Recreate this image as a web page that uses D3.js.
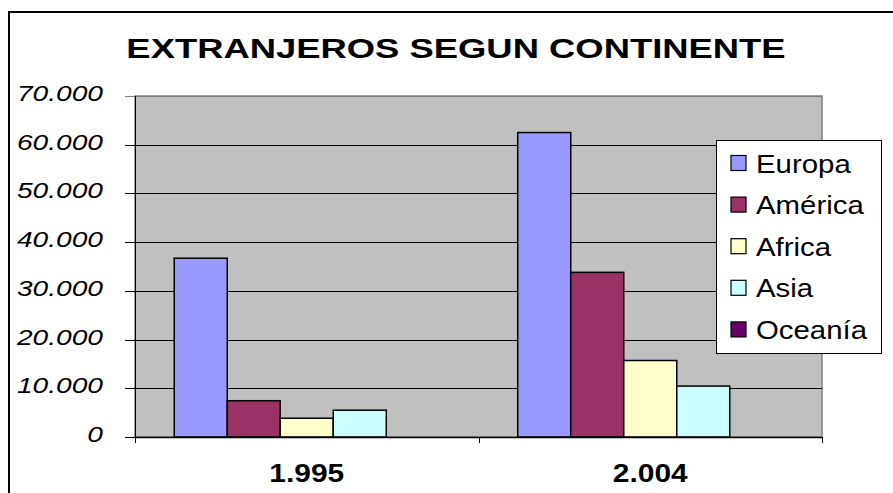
<!DOCTYPE html>
<html>
<head>
<meta charset="utf-8">
<script src="https://cdn.jsdelivr.net/npm/d3@7"></script>
<style>
  body { margin: 0; background: #fff; }
  text { font-family: "Liberation Sans", Arial, sans-serif; fill: #000; }
</style>
</head>
<body>
<div id="chart"></div>
<script>
var years = ["1.995", "2.004"];
var continents = ["Europa", "América", "Africa", "Asia", "Oceanía"];
var colors = ["#9999FF", "#993366", "#FFFFCC", "#CCFFFF", "#660066"];
// values per continent, [1995, 2004]
var europa  = [36700, 62500];
var america = [7450, 33800];
var africa  = [3850, 15700];
var asia    = [5500, 10450];
var oceania = [0, 0];
var yTicks = [0, 10000, 20000, 30000, 40000, 50000, 60000, 70000];

var w = 893, h = 493;
var plot = {left: 135, top: 96, right: 822, bottom: 437};

var series = [europa, america, africa, asia, oceania];
var data = [];
years.forEach(function(yr, i) {
  continents.forEach(function(c, j) {
    data.push({year: yr, cont: c, value: series[j][i], color: colors[j]});
  });
});

// spanish style thousands: 70.000
var fmt = function(d) { return d3.format(",")(d).replace(/,/g, "."); };

var svg = d3.select("#chart").append("svg")
  .attr("width", w)
  .attr("height", h);

// stretched text helper (the original is horizontally stretched)
function stretched(sel, x, y, sx) {
  return sel.attr("x", 0).attr("y", 0)
    .attr("transform", "translate(" + x + "," + y + ") scale(" + sx + ",1)");
}

// outer chart border
svg.append("rect")
  .attr("x", 9).attr("y", 12)
  .attr("width", w).attr("height", h)
  .attr("fill", "none")
  .attr("stroke", "#000")
  .attr("stroke-width", 2);

var x0 = d3.scaleBand().domain(years).range([plot.left, plot.right]).padding(0);
var x1 = d3.scaleBand().domain(continents).range([0, x0.bandwidth()])
  .paddingInner(0).paddingOuter(0.74);
var y = d3.scaleLinear().domain([0, 70000]).range([plot.bottom, plot.top]);

// plot area
svg.append("rect")
  .attr("x", plot.left).attr("y", plot.top)
  .attr("width", plot.right - plot.left)
  .attr("height", plot.bottom - plot.top)
  .attr("fill", "#C0C0C0")
  .attr("stroke", "#808080")
  .attr("stroke-width", 1.5);

// gridlines + ticks
svg.selectAll(".grid")
  .data(yTicks)
  .enter().append("line")
  .attr("class", "grid")
  .attr("x1", plot.left - 10).attr("x2", plot.right)
  .attr("y1", function(d) { return Math.round(y(d)) + 0.5; })
  .attr("y2", function(d) { return Math.round(y(d)) + 0.5; })
  .attr("stroke", function(d) { return d == 70000 ? "#808080" : "#000"; })
  .attr("stroke-width", 1);

svg.selectAll(".ylab")
  .data(yTicks)
  .enter().append("text")
  .attr("class", "ylab")
  .attr("text-anchor", "end")
  .style("font-size", "22px")
  .style("font-style", "italic")
  .each(function(d) {
    stretched(d3.select(this), 103, y(d) + 5, 1.28);
  })
  .text(fmt);

// bars
svg.selectAll(".bar")
  .data(data)
  .enter().append("rect")
  .attr("class", "bar")
  .attr("x", function(d) { return x0(d.year) + x1(d.cont); })
  .attr("y", function(d) { return y(d.value); })
  .attr("width", x1.bandwidth())
  .attr("height", function(d) { return plot.bottom - y(d.value); })
  .attr("fill", function(d) { return d.color; })
  .attr("stroke", "#000")
  .attr("stroke-width", 1.5);

// axes lines
svg.append("line")
  .attr("x1", plot.left + 0.5).attr("x2", plot.left + 0.5)
  .attr("y1", plot.top).attr("y2", plot.bottom + 6)
  .attr("stroke", "#000");
svg.append("line")
  .attr("x1", plot.left).attr("x2", plot.right)
  .attr("y1", plot.bottom + 0.5).attr("y2", plot.bottom + 0.5)
  .attr("stroke", "#000").attr("stroke-width", 1.5);

var seps = years.map(function(d) { return x0(d); }).concat([plot.right]);
svg.selectAll(".xtick")
  .data(seps)
  .enter().append("line")
  .attr("class", "xtick")
  .attr("x1", function(d) { return Math.round(d) + 0.5; })
  .attr("x2", function(d) { return Math.round(d) + 0.5; })
  .attr("y1", plot.bottom).attr("y2", plot.bottom + 6)
  .attr("stroke", "#000");

svg.selectAll(".xlab")
  .data(years)
  .enter().append("text")
  .attr("class", "xlab")
  .attr("text-anchor", "middle")
  .style("font-size", "26px")
  .style("font-weight", "bold")
  .each(function(d) {
    stretched(d3.select(this), x0(d) + x0.bandwidth() / 2, 482, 1.15);
  })
  .text(function(d) { return d; });

// title
stretched(svg.append("text"), 456, 58, 1.3)
  .attr("text-anchor", "middle")
  .style("font-size", "28px")
  .style("font-weight", "bold")
  .text("EXTRANJEROS SEGUN CONTINENTE");

// legend
var legend = svg.append("g").attr("transform", "translate(716,140)");
legend.append("rect")
  .attr("x", 0.5).attr("y", 0.5)
  .attr("width", 165).attr("height", 213)
  .attr("fill", "#fff")
  .attr("stroke", "#000");

var items = legend.selectAll(".item")
  .data(continents)
  .enter().append("g")
  .attr("class", "item")
  .attr("transform", function(d, i) { return "translate(0," + (23 + i * 41.6) + ")"; });

items.append("rect")
  .attr("x", 15).attr("y", -7.5)
  .attr("width", 15).attr("height", 15)
  .attr("fill", function(d, i) { return colors[i]; })
  .attr("stroke", "#000")
  .attr("stroke-width", 1.2);

items.append("text")
  .style("font-size", "26px")
  .each(function(d) { stretched(d3.select(this), 40, 9.5, 1.13); })
  .text(function(d) { return d; });
</script>
</body>
</html>
